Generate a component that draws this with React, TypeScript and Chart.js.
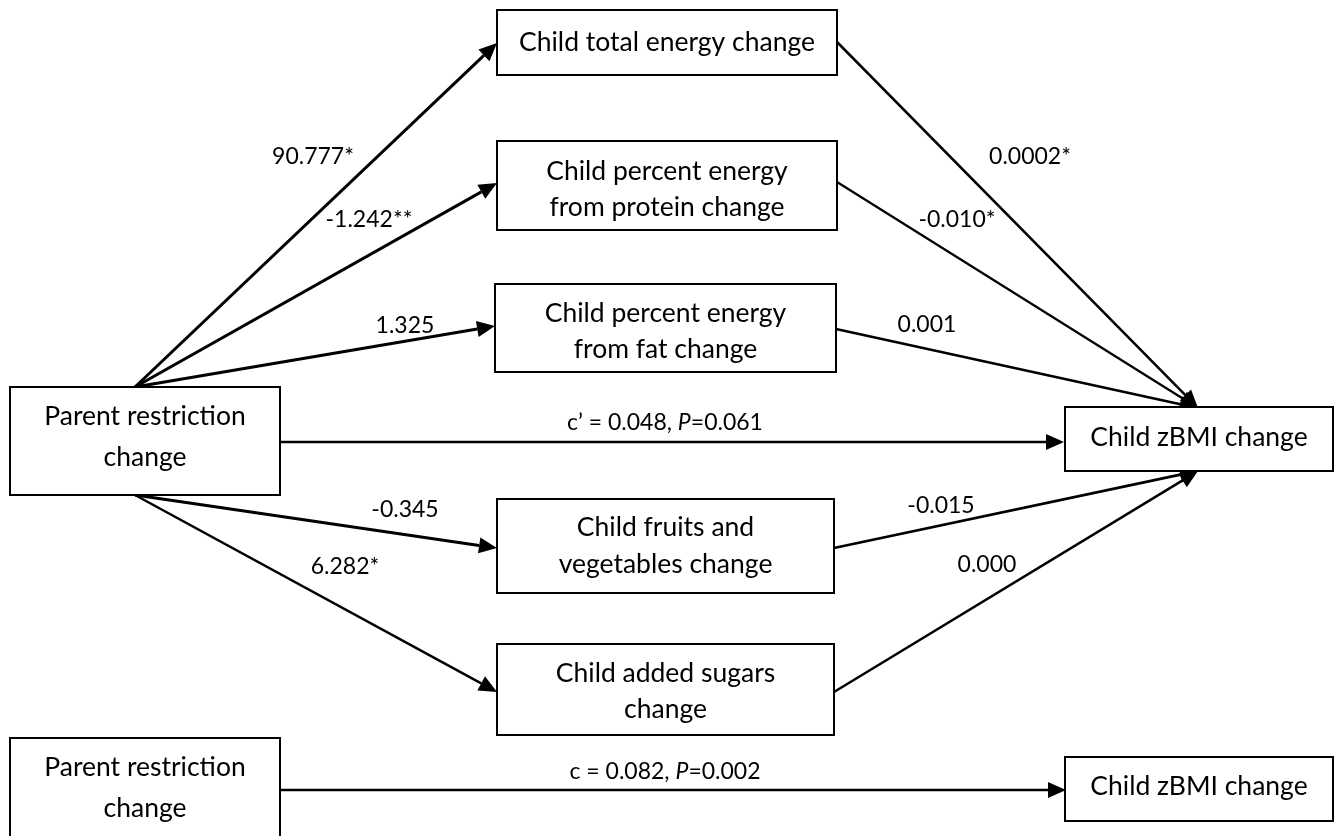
import React, { useEffect, useRef } from "react";
import { Chart, registerables } from "chart.js";

Chart.register(...registerables);

// ---- Diagram data ----
const nodeLabels: string[][] = [
  ["Child total energy change"],
  ["Child percent energy", "from protein change"],
  ["Child percent energy", "from fat change"],
  ["Parent restriction", "change"],
  ["Child zBMI change"],
  ["Child fruits and", "vegetables change"],
  ["Child added sugars", "change"],
  ["Parent restriction", "change"],
  ["Child zBMI change"],
];
// box extents in diagram units (left, top, right, bottom)
const nodeLeft = [497, 497, 495, 10, 1065, 497, 497, 10, 1065];
const nodeTop = [10, 141, 284, 387, 407, 499, 644, 738, 757];
const nodeRight = [837, 837, 836, 280, 1333, 834, 834, 280, 1333];
const nodeBottom = [75, 230, 372, 495, 471, 593, 735, 837, 821];
const nodeTextY = [42, 189, 331, 437, 437, 546, 691, 788, 786];
const nodeLineGap = [0, 36, 36, 41, 0, 37, 36, 41, 0];

// paths: start point, end point, coefficient label and its anchor
const pathFromX = [135, 135, 135, 280, 135, 135, 837, 837, 836, 834, 834, 280];
const pathFromY = [387, 387, 387, 442, 495, 495, 42, 182, 329, 548, 692, 790];
const pathToX = [497, 497, 495, 1064, 497, 497, 1198, 1198, 1198, 1198, 1198, 1066];
const pathToY = [43, 183, 326, 442, 548, 692, 408, 408, 408, 471, 471, 790];
const pathWidth = [3, 3, 3, 2.5, 3, 2.5, 2.5, 2.2, 2.5, 2.8, 2.5, 2.5];
const pathLabels: string[][] = [
  ["90.777*"],
  ["-1.242**"],
  ["1.325"],
  ["c\u2019 = 0.048, ", "P", "=0.061"],
  ["-0.345"],
  ["6.282*"],
  ["0.0002*"],
  ["-0.010*"],
  ["0.001"],
  ["-0.015"],
  ["0.000"],
  ["c = 0.082, ", "P", "=0.002"],
];
const labelX = [313, 369, 405, 665, 405, 345, 1030, 957, 927, 941, 987, 665];
const labelY = [157, 220, 326, 423, 510, 567, 157, 220, 325, 506, 565, 772];

const FONT = "Lato, 'Open Sans', sans-serif";

const diagramPlugin = {
  id: "diagram",
  afterDatasetsDraw(chart: any) {
    const ctx: CanvasRenderingContext2D = chart.ctx;
    const xs = chart.scales.x;
    const ys = chart.scales.y;
    const px = (v: number) => xs.getPixelForValue(v);
    const py = (v: number) => ys.getPixelForValue(v);
    ctx.save();
    ctx.strokeStyle = "#000";
    ctx.fillStyle = "#000";

    // paths
    for (let i = 0; i < pathFromX.length; i++) {
      const x1 = px(pathFromX[i]);
      const y1 = py(pathFromY[i]);
      const x2 = px(pathToX[i]);
      const y2 = py(pathToY[i]);
      const ang = Math.atan2(y2 - y1, x2 - x1);
      const headLen = 18;
      const headW = 8;
      const bx = x2 - headLen * Math.cos(ang);
      const by = y2 - headLen * Math.sin(ang);
      ctx.lineWidth = pathWidth[i];
      ctx.beginPath();
      ctx.moveTo(x1, y1);
      ctx.lineTo(bx, by);
      ctx.stroke();
      ctx.beginPath();
      ctx.moveTo(x2, y2);
      ctx.lineTo(bx + headW * Math.sin(ang), by - headW * Math.cos(ang));
      ctx.lineTo(bx - headW * Math.sin(ang), by + headW * Math.cos(ang));
      ctx.closePath();
      ctx.fill();
    }

    // boxes
    ctx.lineWidth = 2;
    ctx.textAlign = "center";
    ctx.textBaseline = "middle";
    ctx.font = `26.5px ${FONT}`;
    for (let i = 0; i < nodeLabels.length; i++) {
      const l = px(nodeLeft[i]);
      const t = py(nodeTop[i]);
      const r = px(nodeRight[i]);
      const b = py(nodeBottom[i]);
      ctx.fillStyle = "#fff";
      ctx.fillRect(l, t, r - l, b - t);
      ctx.strokeRect(l, t, r - l, b - t);
      ctx.fillStyle = "#000";
      const lines = nodeLabels[i];
      const cx = (l + r) / 2;
      const cy = py(nodeTextY[i]);
      const gap = nodeLineGap[i];
      lines.forEach((s, k) => {
        const yy = cy + (k - (lines.length - 1) / 2) * gap;
        ctx.fillText(s, cx, yy);
      });
    }

    // labels
    ctx.textAlign = "left";
    for (let i = 0; i < pathLabels.length; i++) {
      const parts = pathLabels[i];
      const fonts = parts.map((_, k) =>
        parts.length === 3 && k === 1 ? `italic 23px ${FONT}` : `23px ${FONT}`
      );
      let total = 0;
      const widths = parts.map((s, k) => {
        ctx.font = fonts[k];
        const w = ctx.measureText(s).width;
        total += w;
        return w;
      });
      let x = px(labelX[i]) - total / 2;
      const y = py(labelY[i]);
      parts.forEach((s, k) => {
        ctx.font = fonts[k];
        ctx.fillText(s, x, y);
        x += widths[k];
      });
    }
    ctx.restore();
  },
};

export default function App() {
  const ref = useRef<HTMLCanvasElement | null>(null);
  useEffect(() => {
    document.body.style.margin = "0";
    if (!ref.current) return;
    const chart = new Chart(ref.current, {
      type: "scatter",
      data: { datasets: [{ data: [], pointRadius: 0 }] },
      options: {
        animation: false,
        responsive: false,
        maintainAspectRatio: false,
        layout: { padding: 0 },
        plugins: { legend: { display: false }, tooltip: { enabled: false } },
        scales: {
          x: { type: "linear", min: 0, max: 1340, display: false },
          y: { type: "linear", min: 0, max: 836, reverse: true, display: false },
        },
      },
      plugins: [diagramPlugin],
    });
    return () => chart.destroy();
  }, []);
  return (
    <div style={{ width: 1340, height: 836, background: "#fff" }}>
      <canvas ref={ref} width={1340} height={836} style={{ display: "block" }} />
    </div>
  );
}
